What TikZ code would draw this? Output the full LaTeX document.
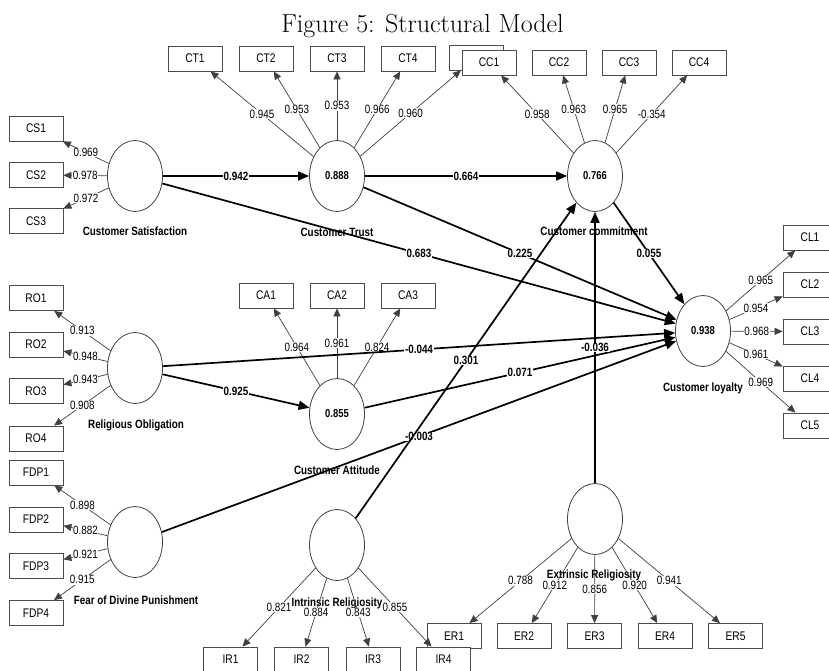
\documentclass[tikz,border=0pt]{standalone}
\usepackage{fontspec}
\newfontfamily\plsfont[FakeStretch=0.82]{Liberation Sans}
\usetikzlibrary{shapes.geometric,arrows.meta}

\begin{document}
\begin{tikzpicture}[x=1pt, y=-1pt,
  indbox/.style={draw=black!70, fill=white, line width=0.8pt, minimum width=54pt, minimum height=25pt, inner sep=0pt, font=\plsfont\fontsize{12.5}{13}\selectfont},
  latent/.style={ellipse, draw=black!75, fill=white, line width=0.8pt, minimum width=55pt, minimum height=71pt, inner sep=0pt, font=\plsfont\bfseries\fontsize{11.5}{12}\selectfont},
  lvname/.style={inner sep=0pt, font=\plsfont\bfseries\fontsize{12}{13}\selectfont},
  loading/.style={draw=black!75, line width=0.7pt, -{Triangle[length=8pt,width=7pt]}},
  structural/.style={draw=black, line width=1.7pt, -{Triangle[length=11pt,width=9pt]}},
  lval/.style={fill=white, inner sep=0.6pt, font=\plsfont\fontsize{12}{13}\selectfont},
  pval/.style={fill=white, inner sep=0.6pt, font=\plsfont\bfseries\fontsize{12}{13}\selectfont}]
  \clip (0,0) rectangle (829,670);
  \fill[white] (0,0) rectangle (829,670);

  % 1. title
  \node[anchor=base, font=\fontsize{26}{30}\selectfont] (title) at (422.5,32) {Figure 5: Structural Model};

  % 2. latent variables and their names
  \node[latent] (cs) at (135,176) {};
  \node[latent] (ct) at (337,176) {0.888};
  \node[latent] (cc) at (595,176) {0.766};
  \node[latent] (ro) at (135,368) {};
  \node[latent] (ca) at (337,414) {0.855};
  \node[latent] (cl) at (703,331) {0.938};
  \node[latent] (fdp) at (135,542) {};
  \node[latent] (ir) at (337,545) {};
  \node[latent] (er) at (595,519) {};

  \node[lvname] (csname) at (135,231) {Customer Satisfaction};
  \node[lvname] (ctname) at (337,232) {Customer Trust};
  \node[lvname] (ccname) at (594,231) {Customer commitment};
  \node[lvname] (roname) at (136,425) {Religious Obligation};
  \node[lvname] (caname) at (337,470) {Customer Attitude};
  \node[lvname] (clname) at (703,388) {Customer loyalty};
  \node[lvname] (fdpname) at (136,600) {Fear of Divine Punishment};
  \node[lvname] (irname) at (337,603) {Intrinsic Religiosity};
  \node[lvname] (ername) at (594,575) {Extrinsic Religiosity};

  % 3. indicator boxes
  \node[indbox] (ct1) at (195,58.5) {CT1};
  \node[indbox] (ct2) at (266,58.5) {CT2};
  \node[indbox] (ct3) at (337,58.5) {CT3};
  \node[indbox] (ct4) at (408,58.5) {CT4};
  \node[indbox] (ct5) at (476,57.5) {};
  \node[indbox] (cc1) at (489,62.5) {CC1};
  \node[indbox] (cc2) at (559,62.5) {CC2};
  \node[indbox] (cc3) at (629,62.5) {CC3};
  \node[indbox] (cc4) at (699,62.5) {CC4};

  \node[indbox] (cs1) at (36,128.5) {CS1};
  \node[indbox] (cs2) at (36,175) {CS2};
  \node[indbox] (cs3) at (36,221) {CS3};

  \node[indbox] (ro1) at (36,298) {RO1};
  \node[indbox] (ro2) at (36,344.5) {RO2};
  \node[indbox] (ro3) at (36,391) {RO3};
  \node[indbox] (ro4) at (36,438.5) {RO4};

  \node[indbox] (fdp1) at (36,472.5) {FDP1};
  \node[indbox] (fdp2) at (36,519.5) {FDP2};
  \node[indbox] (fdp3) at (36,566) {FDP3};
  \node[indbox] (fdp4) at (36,613) {FDP4};

  \node[indbox] (ca1) at (266,295.5) {CA1};
  \node[indbox] (ca2) at (337,295.5) {CA2};
  \node[indbox] (ca3) at (408,295.5) {CA3};

  \node[indbox] (cl1) at (810,237.5) {CL1};
  \node[indbox] (cl2) at (810,284.5) {CL2};
  \node[indbox] (cl3) at (810,331.5) {CL3};
  \node[indbox] (cl4) at (810,378.5) {CL4};
  \node[indbox] (cl5) at (810,425.5) {CL5};

  \node[indbox] (er1) at (454,636) {ER1};
  \node[indbox] (er2) at (524,636) {ER2};
  \node[indbox] (er3) at (594.5,636) {ER3};
  \node[indbox] (er4) at (665,636) {ER4};
  \node[indbox] (er5) at (735.5,636) {ER5};

  \node[indbox] (ir1) at (230.5,659.5) {IR1};
  \node[indbox] (ir2) at (301.5,659.5) {IR2};
  \node[indbox] (ir3) at (373,659.5) {IR3};
  \node[indbox] (ir4) at (443.5,659.5) {IR4};

  % 4. outer loadings
  \draw[loading] (ct) -- node[lval] {0.945} (ct1);
  \draw[loading] (ct) -- node[lval] {0.953} (ct2);
  \draw[loading] (ct) -- node[lval] {0.953} (ct3);
  \draw[loading] (ct) -- node[lval] {0.966} (ct4);
  \draw[loading] (ct) -- node[lval] {0.960} (ct5);

  \draw[loading] (cc) -- node[lval] {0.958} (cc1);
  \draw[loading] (cc) -- node[lval] {0.963} (cc2);
  \draw[loading] (cc) -- node[lval] {0.965} (cc3);
  \draw[loading] (cc) -- node[lval] {-0.354} (cc4);

  \draw[loading] (cs) -- node[lval] {0.969} (cs1);
  \draw[loading] (cs) -- node[lval] {0.978} (cs2);
  \draw[loading] (cs) -- node[lval] {0.972} (cs3);

  \draw[loading] (ro) -- node[lval] {0.913} (ro1);
  \draw[loading] (ro) -- node[lval] {0.948} (ro2);
  \draw[loading] (ro) -- node[lval] {0.943} (ro3);
  \draw[loading] (ro) -- node[lval] {0.908} (ro4);

  \draw[loading] (fdp) -- node[lval] {0.898} (fdp1);
  \draw[loading] (fdp) -- node[lval] {0.882} (fdp2);
  \draw[loading] (fdp) -- node[lval] {0.921} (fdp3);
  \draw[loading] (fdp) -- node[lval] {0.915} (fdp4);

  \draw[loading] (ca) -- node[lval] {0.964} (ca1);
  \draw[loading] (ca) -- node[lval] {0.961} (ca2);
  \draw[loading] (ca) -- node[lval] {0.824} (ca3);

  \draw[loading] (cl) -- node[lval] {0.965} (cl1);
  \draw[loading] (cl) -- node[lval] {0.954} (cl2);
  \draw[loading] (cl) -- node[lval] {0.968} (cl3);
  \draw[loading] (cl) -- node[lval] {0.961} (cl4);
  \draw[loading] (cl) -- node[lval] {0.969} (cl5);

  \draw[loading] (ir) -- node[lval] {0.821} (ir1);
  \draw[loading] (ir) -- node[lval] {0.884} (ir2);
  \draw[loading] (ir) -- node[lval] {0.843} (ir3);
  \draw[loading] (ir) -- node[lval] {0.855} (ir4);

  \draw[loading] (er) -- node[lval] {0.788} (er1);
  \draw[loading] (er) -- node[lval] {0.912} (er2);
  \draw[loading] (er) -- node[lval] {0.856} (er3);
  \draw[loading] (er) -- node[lval] {0.920} (er4);
  \draw[loading] (er) -- node[lval] {0.941} (er5);

  % 5. structural paths
  \draw[structural] (cs) -- node[pval] {0.942} (ct);
  \draw[structural] (ct) -- node[pval] {0.664} (cc);
  \draw[structural] (cs) -- node[pval] {0.683} (cl);
  \draw[structural] (ct) -- node[pval] {0.225} (cl);
  \draw[structural] (cc) -- node[pval] {0.055} (cl);
  \draw[structural] (ro) -- node[pval] {0.925} (ca);
  \draw[structural] (ro) -- node[pval] {-0.044} (cl);
  \draw[structural] (ca) -- node[pval] {0.071} (cl);
  \draw[structural] (fdp) -- node[pval] {-0.003} (cl);
  \draw[structural] (ir) -- node[pval] {0.301} (cc);
  \draw[structural] (er) -- node[pval] {-0.036} (cc);
\end{tikzpicture}
\end{document}
